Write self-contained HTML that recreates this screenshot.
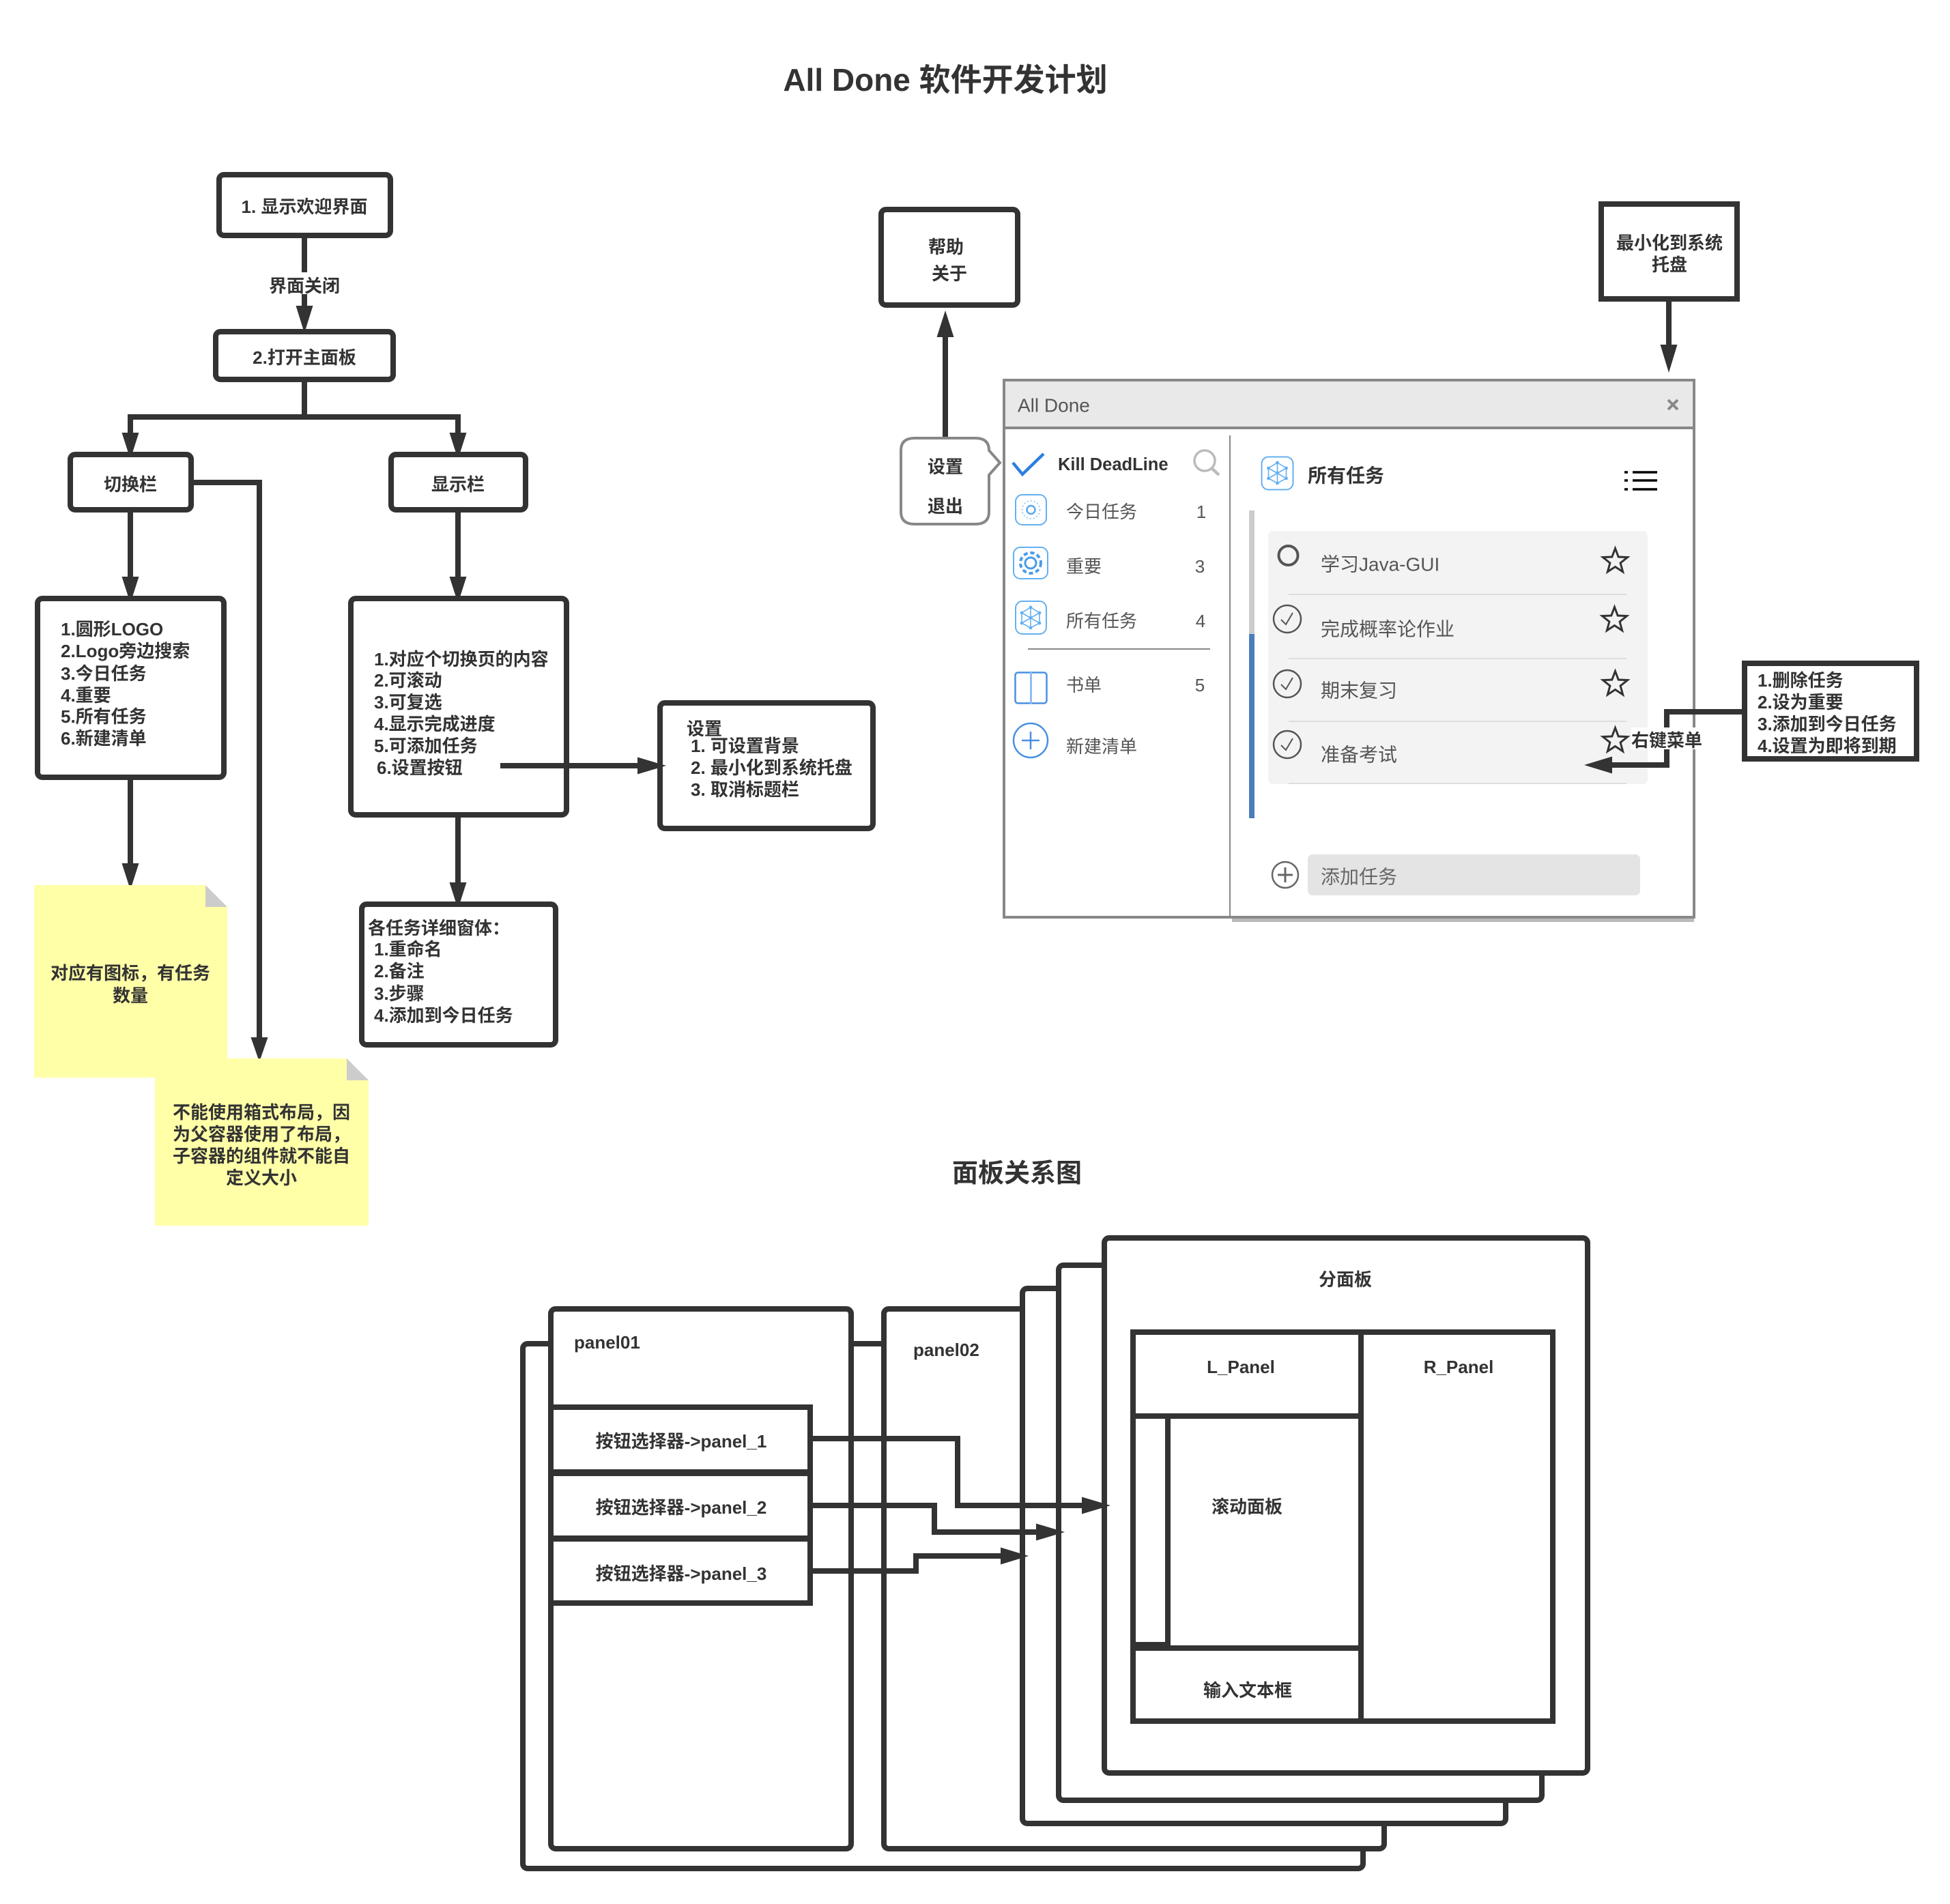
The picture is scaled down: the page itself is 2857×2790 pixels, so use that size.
<!DOCTYPE html>
<html><head><meta charset="utf-8"><style>
html,body{margin:0;padding:0;background:#fff}
svg{display:block}
text{font-family:"Liberation Sans","Noto Sans CJK SC",sans-serif;dominant-baseline:central}
.b{font-weight:700;font-size:26px;fill:#333}
.m{text-anchor:middle}
.r{font-size:26px;fill:#555}
.t{font-size:28px;fill:#555}
.s{fill:#fff;stroke:#333;stroke-width:8}
.l{fill:none;stroke:#333;stroke-width:8}
.a{fill:#333}
.ic{fill:none;stroke:#64b0f0;stroke-width:2}
</style></head><body>
<svg xmlns="http://www.w3.org/2000/svg" width="2857" height="2790" viewBox="0 0 2857 2790">
<defs>
<g id="star"><polygon points="0,-19 4.7,-6.47 18.07,-5.87 7.61,2.47 11.17,15.37 0,8 -11.17,15.37 -7.61,2.47 -18.07,-5.87 -4.7,-6.47" fill="none" stroke="#333" stroke-width="3"/></g>
<g id="chk"><circle r="20" fill="none" stroke="#555" stroke-width="2.5"/><path d="M-9,1 L-2,8 L8,-9" fill="none" stroke="#555" stroke-width="2"/></g>
<g id="net"><path d="M0,-15 L13,-7 L13,8 L0,15 L-13,8 L-13,-7Z M0,-15 V15 M-13,-7 L13,8 M13,-7 L-13,8" fill="none" stroke="#64b0f0" stroke-width="1.6"/><g fill="#64b0f0"><circle cy="-15" r="2.4"/><circle cy="15" r="2.4"/><circle r="2.4"/><circle cx="13" cy="-7" r="2.4"/><circle cx="13" cy="8" r="2.4"/><circle cx="-13" cy="-7" r="2.4"/><circle cx="-13" cy="8" r="2.4"/></g></g>
</defs>
<rect width="2857" height="2790" fill="#fff"/>

<text class="b m" x="1385" y="117" style="font-size:46px">All Done 软件开发计划</text>
<text class="b m" x="1490" y="1720" style="font-size:38px">面板关系图</text>

<!-- left flow lines -->
<path class="l" d="M446,345 V450"/>
<polygon class="a" points="433.500,448 458.500,448 446,488"/>
<path class="l" d="M446,556 V611 M191,640 V611 H671 V640"/>
<polygon class="a" points="178.500,634 203.500,634 191,673"/>
<polygon class="a" points="658.500,634 683.500,634 671,673"/>
<path class="l" d="M191,750 V850"/>
<polygon class="a" points="178.500,845 203.500,845 191,884"/>
<path class="l" d="M671,750 V850"/>
<polygon class="a" points="658.500,845 683.500,845 671,884"/>
<path class="l" d="M284,707 H380 V1525"/>
<polygon class="a" points="367.500,1520 392.500,1520 380,1556"/>
<path class="l" d="M191,1143 V1270"/>
<polygon class="a" points="178.500,1265 203.500,1265 191,1304"/>
<path class="l" d="M671,1198 V1296"/>
<polygon class="a" points="658.500,1293 683.500,1293 671,1332"/>

<!-- left flow boxes -->
<rect class="s" x="321" y="256" width="251" height="89" rx="7"/>
<rect class="s" x="316" y="486" width="260" height="70" rx="7"/>
<rect class="s" x="103" y="666" width="177" height="81" rx="7"/>
<rect class="s" x="573" y="666" width="197" height="81" rx="7"/>
<rect class="s" x="55" y="877" width="273" height="262" rx="7"/>
<rect class="s" x="514" y="877" width="316" height="317" rx="7"/>
<rect class="s" x="967" y="1030" width="312" height="184" rx="7"/>
<rect class="s" x="530" y="1325" width="284" height="206" rx="7"/>
<path class="l" d="M733,1122 H940"/>
<polygon class="a" points="934,1109.500 934,1134.500 976,1122"/>

<polygon points="50,1297 301,1297 333,1329 333,1579 50,1579" fill="#ffffa8"/>
<polygon points="301,1297 333,1329 301,1329" fill="#ccc"/>
<polygon points="227,1551 508,1551 540,1583 540,1796 227,1796" fill="#ffffa8"/>
<polygon points="508,1551 540,1583 508,1583" fill="#ccc"/>

<rect x="395" y="399" width="102" height="32" fill="#fff"/>
<text class="b m" x="446" y="419">界面关闭</text>
<text class="b m" x="446" y="303">1. 显示欢迎界面</text>
<text class="b m" x="446" y="524">2.打开主面板</text>
<text class="b m" x="191" y="710">切换栏</text>
<text class="b m" x="671" y="710">显示栏</text>
<text class="b" x="89" y="922">1.圆形LOGO</text><text class="b" x="89" y="954">2.Logo旁边搜索</text><text class="b" x="89" y="987">3.今日任务</text><text class="b" x="89" y="1019">4.重要</text><text class="b" x="89" y="1050">5.所有任务</text><text class="b" x="89" y="1082">6.新建清单</text>
<text class="b" x="548" y="966">1.对应个切换页的内容</text><text class="b" x="548" y="997">2.可滚动</text><text class="b" x="548" y="1029">3.可复选</text><text class="b" x="548" y="1061">4.显示完成进度</text><text class="b" x="548" y="1093">5.可添加任务</text><text class="b" x="552" y="1125">6.设置按钮</text>
<text class="b" x="1006" y="1068">设置</text><text class="b" x="1012" y="1093">1. 可设置背景</text><text class="b" x="1012" y="1125">2. 最小化到系统托盘</text><text class="b" x="1012" y="1157">3. 取消标题栏</text>
<text class="b" x="539" y="1360">各任务详细窗体：</text><text class="b" x="548" y="1391">1.重命名</text><text class="b" x="548" y="1423">2.备注</text><text class="b" x="548" y="1456">3.步骤</text><text class="b" x="548" y="1488">4.添加到今日任务</text>
<text class="b m" x="191" y="1426">对应有图标，有任务</text><text class="b m" x="191" y="1459">数量</text>
<text class="b m" x="383" y="1630">不能使用箱式布局，因</text><text class="b m" x="383" y="1662">为父容器使用了布局，</text><text class="b m" x="383" y="1694">子容器的组件就不能自</text><text class="b m" x="383" y="1726">定义大小</text>

<!-- top right -->
<rect class="s" x="1291" y="307" width="200" height="140" rx="7"/>
<rect class="s" x="2346" y="299" width="199" height="139"/>
<text class="b m" x="1386" y="362">帮助</text><text class="b m" x="1391" y="401">关于</text>
<text class="b m" x="2446" y="356">最小化到系统</text><text class="b m" x="2446" y="388">托盘</text>
<path class="l" d="M1385,640 V490"/>
<polygon class="a" points="1372.500,494 1397.500,494 1385,455"/>
<path class="l" d="M2445,442 V510"/>
<polygon class="a" points="2432.500,505 2457.500,505 2445,546"/>

<!-- window -->
<rect x="1805" y="1345" width="677" height="6" fill="#bbb"/>
<rect x="1471" y="557" width="1011" height="787" fill="#fff" stroke="#888" stroke-width="4"/>
<rect x="1473" y="559" width="1007" height="67" fill="#e9e9e9"/>
<path d="M1471,627 H2482" stroke="#888" stroke-width="4" fill="none"/>
<path d="M1802,638 V1345" stroke="#888" stroke-width="2" fill="none"/>
<text class="t" x="1491" y="594">All Done</text>
<path d="M2444,586 L2458,600 M2458,586 L2444,600" stroke="#888" stroke-width="4" fill="none"/>

<path d="M1340,642 H1429 Q1449,642 1449,660 L1465,678 L1449,696 V750 Q1449,768 1429,768 H1340 Q1320,768 1320,750 V660 Q1320,642 1340,642Z" fill="#fff" stroke="#888" stroke-width="4"/>
<text class="b m" x="1385" y="684">设置</text><text class="b m" x="1385" y="742">退出</text>

<path d="M1484,678 L1498,695 L1529,665" fill="none" stroke="#2d7fe0" stroke-width="4.500"/>
<text class="b" x="1550" y="681" style="font-size:25.500px">Kill DeadLine</text>
<circle cx="1765" cy="675" r="15" fill="none" stroke="#bbb" stroke-width="3.500"/><path d="M1775,686 L1786,696" stroke="#bbb" stroke-width="4.500"/>

<rect class="ic" x="1488" y="725" width="45" height="44" rx="10"/>
<circle cx="1510.500" cy="747" r="6" fill="none" stroke="#5aa8ee" stroke-width="2.500"/><circle cx="1510.500" cy="747" r="13" fill="none" stroke="#9ccbf5" stroke-width="2" stroke-dasharray="2 3"/>
<rect class="ic" x="1485" y="802" width="50" height="46" rx="10"/>
<circle cx="1510" cy="825" r="8" fill="none" stroke="#4a9be8" stroke-width="3"/><circle cx="1510" cy="825" r="15" fill="none" stroke="#4a9be8" stroke-width="4" stroke-dasharray="6 4"/>
<rect class="ic" x="1488" y="881" width="45" height="48" rx="10"/><use href="#net" x="1510" y="905"/>

<text class="r" x="1562" y="750">今日任务</text><text class="r" x="1562" y="830">重要</text><text class="r" x="1562" y="910">所有任务</text><text class="r" x="1562" y="1004">书单</text><text class="r" x="1562" y="1094">新建清单</text>
<text class="r m" x="1760" y="750">1</text><text class="r m" x="1758" y="830">3</text><text class="r m" x="1759" y="910">4</text><text class="r m" x="1758" y="1004">5</text>
<path d="M1506,951 H1773" stroke="#888" stroke-width="2"/>
<rect x="1487.500" y="985.500" width="46" height="45" rx="4" fill="none" stroke="#4a90e2" stroke-width="2.500"/><path d="M1510.500,985 V1032" stroke="#90bdf0" stroke-width="3"/>
<circle cx="1510" cy="1085" r="25" fill="none" stroke="#4a90e2" stroke-width="2.500"/><path d="M1497,1085 H1523 M1510,1072 V1098" stroke="#4a90e2" stroke-width="2.500"/>

<rect x="1848.500" y="669.500" width="46" height="48" rx="10" class="ic"/><use href="#net" x="1871.500" y="693"/>
<text class="b" x="1916" y="697" style="font-size:28px">所有任务</text>
<path d="M2392,692 H2428 M2392,704 H2428 M2392,717 H2428" stroke="#000" stroke-width="3.500"/><path d="M2380,692 H2385 M2380,704 H2385 M2380,717 H2385" stroke="#000" stroke-width="3.500"/>
<rect x="1830" y="748" width="8" height="181" fill="#ccc"/><rect x="1830" y="929" width="8" height="270" fill="#4a7ebb"/>
<rect x="1858" y="778" width="556" height="371" rx="7" fill="#f3f3f3"/>
<path d="M1888,871 H2383 M1888,965 H2383 M1888,1057 H2383 M1888,1148 H2383" stroke="#ddd" stroke-width="2"/>
<circle cx="1887.500" cy="814" r="14" fill="none" stroke="#555" stroke-width="4"/>
<use href="#chk" x="1886" y="907"/><use href="#chk" x="1886" y="1002"/><use href="#chk" x="1886" y="1091"/>
<text class="t" x="1935" y="827">学习Java-GUI</text><text class="t" x="1935" y="922">完成概率论作业</text><text class="t" x="1935" y="1012">期末复习</text><text class="t" x="1935" y="1106">准备考试</text>
<use href="#star" x="2366.500" y="822.500"/><use href="#star" x="2365.500" y="908.500"/><use href="#star" x="2366.500" y="1002.500"/><use href="#star" x="2366.500" y="1085.500"/>
<circle cx="1883" cy="1282" r="19" fill="none" stroke="#666" stroke-width="2.500"/><path d="M1872,1282 H1894 M1883,1271 V1293" stroke="#666" stroke-width="3"/>
<rect x="1916" y="1252" width="487" height="60" rx="7" fill="#e4e4e4"/>
<text class="t" x="1935" y="1285" style="fill:#666">添加任务</text>

<!-- right-click -->
<path class="l" d="M2553,1043 H2442 V1121 H2358"/>
<polygon class="a" points="2362,1108.500 2362,1133.500 2321,1121"/>
<rect x="2390" y="1066" width="104" height="32" fill="#fff"/>
<text class="b m" x="2442" y="1085">右键菜单</text>
<rect class="s" x="2556" y="972" width="252" height="140"/>
<text class="b" x="2575" y="997">1.删除任务</text><text class="b" x="2575" y="1029">2.设为重要</text><text class="b" x="2575" y="1061">3.添加到今日任务</text><text class="b" x="2575" y="1093">4.设置为即将到期</text>

<!-- panels -->
<rect class="s" x="766" y="1969" width="1231" height="769" rx="7"/>
<rect class="s" x="807" y="1918" width="440" height="791" rx="7"/>
<rect class="s" x="1295" y="1918" width="733" height="791" rx="7"/>
<rect class="s" x="1498" y="1888" width="708" height="784" rx="7"/>
<rect class="s" x="1551" y="1854" width="708" height="784" rx="7"/>
<rect class="s" x="1618" y="1814" width="708" height="784" rx="7"/>
<text class="b" x="841" y="1967">panel01</text><text class="b" x="1338" y="1978">panel02</text>
<rect class="s" x="807" y="2062" width="380" height="95"/><rect class="s" x="807" y="2159" width="380" height="95"/><rect class="s" x="807" y="2255" width="380" height="94"/>
<text class="b m" x="998" y="2112">按钮选择器-&gt;panel_1</text><text class="b m" x="998" y="2209">按钮选择器-&gt;panel_2</text><text class="b m" x="998" y="2306">按钮选择器-&gt;panel_3</text>
<text class="b m" x="1971" y="1875">分面板</text>
<rect class="s" x="1660" y="1952" width="615" height="570"/>
<path class="l" d="M1994,1948 V2526 M1660,2075 H1994 M1660,2415 H1994 M1711,2075 V2411"/>
<rect x="1660" y="2406" width="50" height="6" fill="#333"/>
<text class="b m" x="1818" y="2003">L_Panel</text><text class="b m" x="2137" y="2003">R_Panel</text><text class="b m" x="1827" y="2208">滚动面板</text><text class="b m" x="1828" y="2477">输入文本框</text>
<path class="l" d="M1187,2108 H1403 V2206 H1590"/><polygon class="a" points="1585,2193.500 1585,2218.500 1627,2206"/>
<path class="l" d="M1187,2206 H1369 V2245 H1523"/><polygon class="a" points="1518,2232.500 1518,2257.500 1560,2245"/>
<path class="l" d="M1187,2302 H1342 V2280 H1471"/><polygon class="a" points="1466,2267.500 1466,2292.500 1507,2280"/>
</svg>
</body></html>
